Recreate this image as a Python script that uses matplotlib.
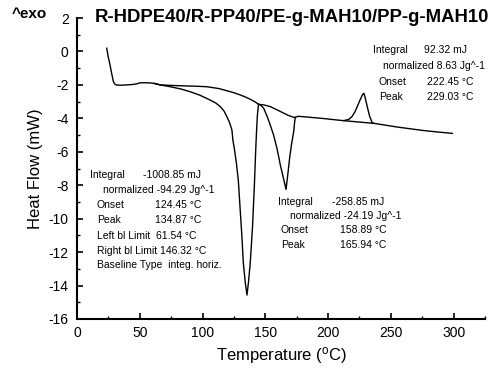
import matplotlib
matplotlib.use('Agg')
import matplotlib.pyplot as plt
from matplotlib import font_manager
from matplotlib.ticker import MultipleLocator

######################### DATA #########################
# measured DSC curve (temperature in C, heat flow in mW)
temp = [23.7, 24.8, 26.3, 27.7, 29.0, 30.3, 31.7, 35, 40, 44.9, 48, 50, 52.9, 58.2, 62, 66.2,
        75, 83, 90.2, 98, 106.1, 110.5, 114.1, 117, 119.4, 121.5, 123.4, 124.2, 125.5, 127,
        128.5, 130, 131.3, 132.5, 134, 135.4, 136.6, 138, 139.8, 141.3, 142.3, 143.0, 143.7,
        144.6, 146.5, 148.7, 151, 153.5, 156.6, 159.3, 162, 164.5, 166.5, 168, 169.5, 171,
        172.6, 173.4, 173.9, 176, 180, 185.9, 192, 200, 206, 212.5, 216.5, 219, 221.5, 223.2,
        225.5, 227.3, 228.5, 229.5, 231.2, 233, 235.1, 236.4, 245, 255, 265, 275, 285, 299]
heat_flow = [0.19, -0.3, -0.81, -1.35, -1.81, -1.97, -2.01, -2.02, -2.0, -1.97, -1.93, -1.88,
             -1.87, -1.88, -1.92, -2.0, -2.12, -2.25, -2.41, -2.62, -2.91, -3.08, -3.30, -3.55,
             -3.90, -4.25, -4.70, -5.30, -5.9, -6.7, -7.7, -9.48, -11.0, -12.65, -13.8, -14.57,
             -13.8, -12.65, -10.5, -8.0, -6.0, -4.8, -3.8, -3.16, -3.22, -3.4, -3.8, -4.3, -5.0,
             -5.8, -6.8, -7.6, -8.25, -7.3, -6.3, -5.5, -4.8, -4.2, -3.94, -3.88, -3.9, -3.94,
             -3.98, -4.04, -4.09, -4.14, -4.06, -3.9, -3.6, -3.3, -2.9, -2.6, -2.5, -2.75, -3.3,
             -3.85, -4.26, -4.3, -4.4, -4.52, -4.62, -4.72, -4.8, -4.9]

# integration baselines
bl1_temp = [61.5, 66.2, 75, 85, 95, 103.5, 113, 119.4, 125, 130, 134, 138, 141.5, 144.6]
bl1_flow = [-1.91, -2.0, -2.03, -2.06, -2.08, -2.11, -2.22, -2.35, -2.47, -2.6, -2.72, -2.86, -3.0, -3.16]
bl2_temp = [144.6, 149, 154, 159, 164.4, 168.5, 172.6, 173.9]
bl2_flow = [-3.16, -3.2, -3.3, -3.48, -3.68, -3.83, -3.94, -3.94]
bl3_temp = [212.5, 236.4]
bl3_flow = [-4.14, -4.3]

title = 'R-HDPE40/R-PP40/PE-g-MAH10/PP-g-MAH10'

# evaluation text blocks: (text, x px, y px)
block_melt1 = [('Integral', 90, 175), ('-1008.85 mJ', 143, 175),
               ('normalized -94.29 Jg^-1', 103, 190),
               ('Onset', 97, 205), ('124.45 \u00b0C', 155, 205),
               ('Peak', 97, 220), ('134.87 \u00b0C', 155, 220),
               ('Left bl Limit  61.54 \u00b0C', 97, 236),
               ('Right bl Limit 146.32 \u00b0C', 97, 251),
               ('Baseline Type  integ. horiz.', 97, 265)]
block_melt2 = [('Integral', 278, 202), ('-258.85 mJ', 332, 202),
               ('normalized -24.19 Jg^-1', 290, 216),
               ('Onset', 281, 230), ('158.89 \u00b0C', 340, 230),
               ('Peak', 281, 245), ('165.94 \u00b0C', 340, 245)]
block_exo = [('Integral', 373, 50), ('92.32 mJ', 424, 50),
             ('normalized 8.63 Jg^-1', 383, 66),
             ('Onset', 379, 82), ('222.45 \u00b0C', 427, 82),
             ('Peak', 379, 97), ('229.03 \u00b0C', 427, 97)]

######################### FONT #########################
names = {f.name for f in font_manager.fontManager.ttflist}
font = 'Liberation Sans Narrow' if 'Liberation Sans Narrow' in names else 'Liberation Sans'
plt.rcParams['font.family'] = [font, 'DejaVu Sans']
plt.rcParams['mathtext.fontset'] = 'custom'
plt.rcParams['mathtext.rm'] = font
plt.rcParams['axes.unicode_minus'] = False

W, H = 502, 369


def px(x, y):
    return x / W, 1 - y / H


######################### PLOT #########################
fig = plt.figure(figsize=(W / 100, H / 100), dpi=100)
ax = fig.add_axes([77 / W, 1 - 319 / H, (485 - 77) / W, (319 - 18) / H])

ax.plot(temp, heat_flow, color='black', lw=1.0)
ax.plot(bl1_temp, bl1_flow, color='black', lw=1.0)
ax.plot(bl2_temp, bl2_flow, color='black', lw=1.0)
ax.plot(bl3_temp, bl3_flow, color='black', lw=1.0)

ax.set_xlim(0, 325)
ax.set_ylim(-16, 2)
ax.xaxis.set_major_locator(MultipleLocator(50))
ax.xaxis.set_minor_locator(MultipleLocator(25))
ax.yaxis.set_major_locator(MultipleLocator(2))
ax.yaxis.set_minor_locator(MultipleLocator(1))
ax.set_xticks([0, 50, 100, 150, 200, 250, 300])
ax.spines['top'].set_visible(False)
ax.spines['right'].set_visible(False)
for s in ('left', 'bottom'):
    ax.spines[s].set_linewidth(1.5)
ax.tick_params(which='major', direction='in', length=4, width=1.2, labelsize=10)
ax.tick_params(which='minor', direction='in', length=2.5, width=1.0)
ax.tick_params(axis='y', pad=6)
ax.tick_params(axis='x', pad=5)

ax.set_xlabel(r'Temperature ($\mathregular{^o}$C)', fontsize=12, labelpad=4)
ax.set_ylabel('Heat Flow (mW)', fontsize=12, labelpad=4)

fig.text(*px(292, 18), title, fontsize=13.3, fontweight='bold', ha='center', va='center')
fig.text(*px(12, 14), '^exo', fontsize=11, fontweight='bold', ha='left', va='center')

for block in (block_melt1, block_melt2, block_exo):
    for txt, x, y in block:
        fig.text(*px(x, y), txt, fontsize=7.5, ha='left', va='center')

fig.savefig('out.png', dpi=100)
